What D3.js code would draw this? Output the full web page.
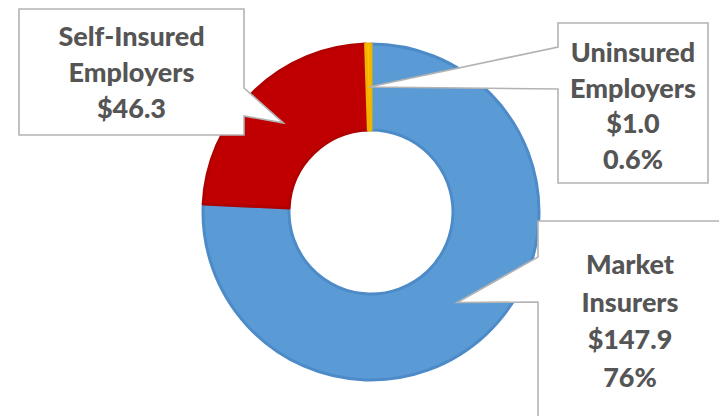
<!DOCTYPE html>
<html>
<head>
<meta charset="utf-8">
<script src="https://cdn.jsdelivr.net/npm/d3@7"></script>
<style>
  html, body { margin: 0; padding: 0; background: #ffffff; }
  svg { display: block; }
  .callout-text { font-family: Lato, "Open Sans", sans-serif; font-weight: 900; fill: #555555; }
</style>
</head>
<body>
<svg id="chart" width="719" height="416"></svg>
<script>
// Payer categories and paid amounts ($ millions)
const categories = ["Market Insurers", "Self-Insured Employers", "Uninsured Employers"];
const values = [147.9, 46.3, 1.0];
const shareLabels = ["76%", null, "0.6%"];
const nameLines = [["Market", "Insurers"], ["Self-Insured", "Employers"], ["Uninsured", "Employers"]];

const colors = ["#5b9bd5", "#c00000", "#ffc000"];
const edgeColors = ["#4d8bc8", "#b10000", "#f0b400"];

const width = 719, height = 416;
const cx = 371, cy = 212, outerR = 168, innerR = 82;

// Callout boxes: rectangle, which side carries the pointer, and where the pointer's base sits on that side
const callouts = [
  { x: 538, y: 221, w: 190, h: 210, side: "left",  base: [36, 81],  textX: 630, firstBaseline: 274, lineH: 37.5 },
  { x: 19,  y: 9,   w: 225, h: 126, side: "right", base: [79, 107], textX: 131.5, firstBaseline: 46, lineH: 36 },
  { x: 558, y: 23,  w: 150, h: 160, side: "left",  base: [24, 66],  textX: 633, firstBaseline: 62, lineH: 35.5 }
];

const data = categories.map((c, i) => ({ name: c, value: values[i], i }));

const svg = d3.select("#chart");

const pie = d3.pie().value(d => d.value).sort(null).startAngle(0).endAngle(2 * Math.PI);
const arc = d3.arc().innerRadius(innerR).outerRadius(outerR);
const arcs = pie(data);

const g = svg.append("g").attr("transform", `translate(${cx},${cy})`);

g.selectAll("path.slice")
  .data(arcs)
  .join("path")
  .attr("class", "slice")
  .attr("d", arc)
  .attr("fill", d => colors[d.data.i])
  .attr("stroke", d => edgeColors[d.data.i])
  .attr("stroke-width", 3)
  .attr("stroke-linejoin", "round");

// Callout shapes with a pointer ending at each slice's centroid
function calloutPath(c, tip) {
  const { x, y, w, h } = c;
  const r = x + w, b = y + h;
  if (c.side === "right") {
    return `M${x},${y}H${r}V${y + c.base[0]}L${tip[0]},${tip[1]}L${r},${y + c.base[1]}V${b}H${x}Z`;
  }
  return `M${x},${y}H${r}V${b}H${x}V${y + c.base[1]}L${tip[0]},${tip[1]}L${x},${y + c.base[0]}Z`;
}

arcs.forEach(a => {
  const i = a.data.i;
  const c = callouts[i];
  const cen = arc.centroid(a);
  const tip = [cx + cen[0], cy + cen[1]];

  svg.append("path")
    .attr("d", calloutPath(c, tip))
    .attr("fill", "#ffffff")
    .attr("stroke", "#b3b3b3")
    .attr("stroke-width", 1.6)
    .attr("stroke-linejoin", "miter");

  const lines = nameLines[i].concat(["$" + d3.format(".1f")(values[i])]);
  if (shareLabels[i]) lines.push(shareLabels[i]);

  const t = svg.append("text")
    .attr("class", "callout-text")
    .attr("text-anchor", "middle")
    .attr("font-size", 27);
  lines.forEach((ln, k) => {
    t.append("tspan")
      .attr("x", c.textX)
      .attr("y", c.firstBaseline + k * c.lineH)
      .text(ln);
  });
});
</script>
</body>
</html>
